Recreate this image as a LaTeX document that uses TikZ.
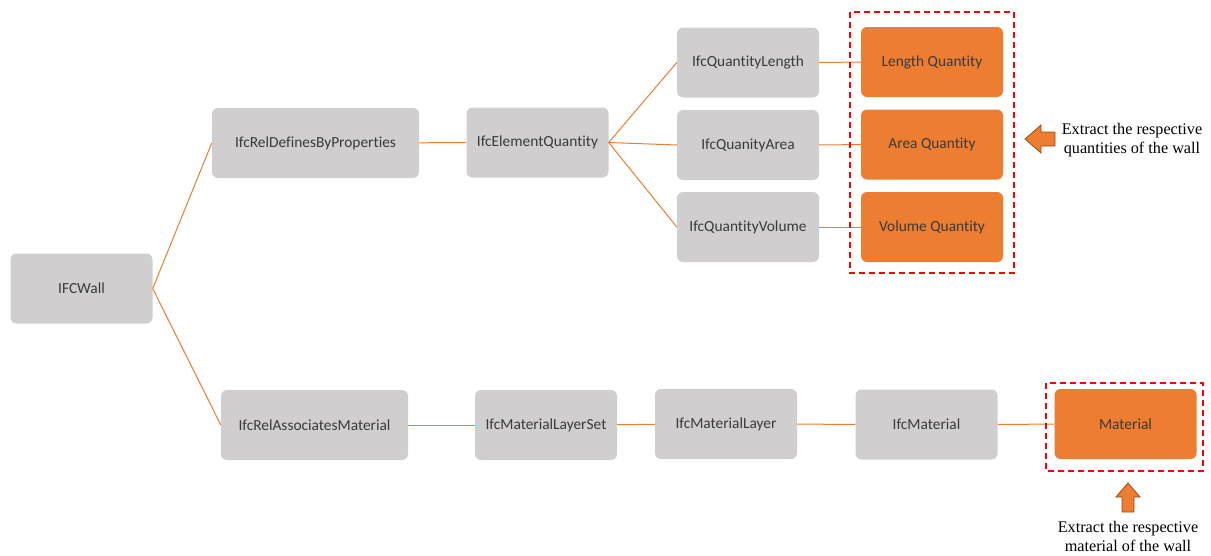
\documentclass[tikz,border=0pt]{standalone}
\usepackage{fontspec}
\setmainfont{Carlito}[RawFeature={-liga,-dlig,-clig}]
\newfontfamily\notefont{Liberation Serif}
\begin{document}
\definecolor{boxgray}{HTML}{D0CECE}
\definecolor{accent}{HTML}{ED7D31}
\definecolor{txt}{HTML}{3A3A3A}
\definecolor{arrowedge}{HTML}{9C4A14}
\begin{tikzpicture}[x=1pt,y=-1pt,
  entity/.style={rectangle, rounded corners=6pt, fill=boxgray, text=txt,
    minimum width=142pt, minimum height=70pt, inner sep=0pt,
    font=\fontsize{15.4}{18}\selectfont},
  result/.style={entity, fill=accent},
  link/.style={draw=accent, line width=1pt},
  frame/.style={draw=red, dashed, line width=1.4pt, dash pattern=on 6pt off 4pt},
  bigarrow/.style={fill=accent, draw=arrowedge, line width=0.8pt},
  note/.style={font=\notefont\fontsize{16.2}{19}\selectfont, align=center, text=black}]
\useasboundingbox (0,0) rectangle (1211,555);

% top branch: quantities
\node[entity] (wall) at (81.5,288.5) {IFCWall};
\node[entity, minimum width=207pt] (defby) at (315.5,143) {IfcRelDefinesByProperties};
\node[entity] (elemq) at (537.5,142.5) {IfcElementQuantity};
\node[entity] (qlen) at (748,62.5) {IfcQuantityLength};
\node[entity] (qarea) at (748,145) {IfcQuanityArea};
\node[entity] (qvol) at (748,227) {IfcQuantityVolume};
\node[result] (rlen) at (932,62) {Length Quantity};
\node[result] (rarea) at (932,144.5) {Area Quantity};
\node[result] (rvol) at (932,227) {Volume Quantity};

% bottom branch: material
\node[entity, minimum width=187pt] (assoc) at (314.5,425) {IfcRelAssociatesMaterial};
\node[entity] (lset) at (546,425) {IfcMaterialLayerSet};
\node[entity] (layer) at (726,424) {IfcMaterialLayer};
\node[entity] (mat) at (926.5,424.5) {IfcMaterial};
\node[result] (rmat) at (1125.5,424) {Material};

% connectors
\draw[link] (wall.east) -- (defby.west);
\draw[link] (wall.east) -- (assoc.west);
\draw[link] (defby) -- (elemq);
\draw[link] (elemq.east) -- (qlen.west);
\draw[link] (elemq.east) -- (qarea.west);
\draw[link] (elemq.east) -- (qvol.west);
\draw[link] (qlen) -- (rlen);
\draw[link] (qarea) -- (rarea);
\draw[link] (qvol) -- (rvol);
\draw[link] (assoc) -- (lset);
\draw[link] (lset) -- (layer);
\draw[link] (layer) -- (mat);
\draw[link] (mat) -- (rmat);

% highlighted outputs
\draw[frame] (850,12) rectangle (1014,273);
\draw[frame] (1046,383) rectangle (1203,471);

% pointer to the quantities
\draw[bigarrow] (1025,139) -- (1041,125) -- (1041,132) -- (1055,132)
  -- (1055,146) -- (1041,146) -- (1041,153) -- cycle;
\node[note] (qnote) at (1132,140) {Extract the respective\\quantities of the wall};

% pointer to the material
\draw[bigarrow] (1128,483) -- (1140,497) -- (1134,497) -- (1134,512)
  -- (1122,512) -- (1122,497) -- (1116,497) -- cycle;
\node[note] (mnote) at (1128,536) {Extract the respective\\material of the wall};
\end{tikzpicture}
\end{document}
